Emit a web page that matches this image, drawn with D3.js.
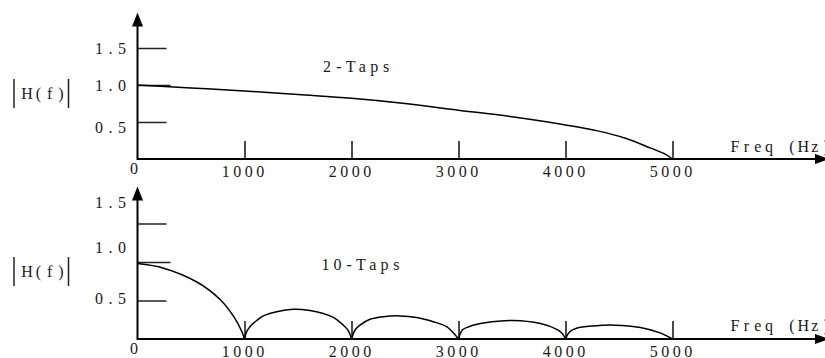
<!DOCTYPE html>
<html>
<head>
<meta charset="utf-8">
<script src="https://cdn.jsdelivr.net/npm/d3@7"></script>
<style>
  body { margin: 0; background: #fff; }
  svg { display: block; }
</style>
</head>
<body>
<div id="chart"></div>
<script>
// frequency ticks (Hz)
var freqTicks = [1000, 2000, 3000, 4000, 5000];
var freqTickLabels = ["1000", "2000", "3000", "4000", "5000"];

// magnitude ticks
var magTicks = [0.5, 1.0, 1.5];
var magTickLabels = ["0.5", "1.0", "1.5"];
// where the magnitude labels sit (in |H| units), as drawn
var topLabelAt = [0.43, 1.0, 1.5];
var bottomLabelAt = [0.53, 1.19, 1.77];

// 2-taps response
var twoTapFreq = [0, 500, 1000, 1500, 2000, 2500, 3000, 3500, 4000, 4300, 4560, 4790, 4940, 5000];
var twoTapMag  = [1.0, 0.96, 0.92, 0.87, 0.82, 0.75, 0.66, 0.57, 0.46, 0.38, 0.28, 0.15, 0.06, 0];

// 10-taps response
var tenTapFreq = [0, 245, 555, 774, 900, 976, 1000,
  1020, 1051, 1114, 1176, 1300, 1456, 1612, 1736, 1830, 1923, 1970, 2000,
  2033, 2079, 2173, 2297, 2453, 2609, 2764, 2889, 2951, 3000,
  3036, 3097, 3250, 3510, 3766, 3918, 3964, 4000,
  4040, 4103, 4260, 4460, 4700, 4884, 4960, 5000];
var tenTapMag = [0.98, 0.92, 0.74, 0.51, 0.29, 0.095, 0,
  0.095, 0.16, 0.24, 0.30, 0.355, 0.386, 0.37, 0.33, 0.28, 0.18, 0.11, 0,
  0.117, 0.18, 0.256, 0.29, 0.30, 0.28, 0.225, 0.16, 0.08, 0,
  0.117, 0.16, 0.21, 0.24, 0.20, 0.126, 0.08, 0,
  0.095, 0.14, 0.17, 0.18, 0.15, 0.08, 0.03, 0];

var svgWidth = 825, svgHeight = 358;
var x0 = 137.5;
var pitch = 11.5;
var font = "'Liberation Serif', 'DejaVu Serif', serif";

var svg = d3.select("#chart").append("svg")
  .attr("width", svgWidth)
  .attr("height", svgHeight);

var xScale = d3.scaleLinear().domain([0, 5000]).range([x0, 672.5]);

// text with each character centred in its own fixed-width cell
function monoText(g, str, cx, y, step) {
  var n = str.length;
  var xs = str.split("").map(function(c, i) { return cx + (i - (n - 1) / 2) * step; });
  return g.append("text")
    .attr("x", xs.join(" "))
    .attr("y", y)
    .attr("text-anchor", "middle")
    .attr("font-family", font)
    .attr("font-size", 16)
    .attr("fill", "#1a1a1a")
    .style("white-space", "pre")
    .text(str);
}

function drawPanel(opts) {
  var g = svg.append("g");
  var base = opts.base;
  var yScale = d3.scaleLinear().domain([0, 1.5]).range([base, base - 1.5 * opts.unit]);

  // x ticks (pointing up)
  var xAxis = g.append("g")
    .attr("transform", `translate(0, ${base})`)
    .call(d3.axisBottom(xScale).tickValues(freqTicks).tickSize(-18).tickFormat(""));
  xAxis.select(".domain").remove();
  xAxis.selectAll(".tick line").attr("stroke", "#111").attr("stroke-width", 1.5);

  // y ticks (pointing right)
  var yAxis = g.append("g")
    .attr("transform", `translate(${x0}, 0)`)
    .call(d3.axisRight(yScale).tickValues(magTicks).tickSize(29).tickFormat(""));
  yAxis.select(".domain").remove();
  yAxis.selectAll(".tick line")
    .attr("stroke", "#222").attr("stroke-width", 1.5)
    .attr("x2", function(d) { return d === 1.0 ? 33 : 29; });

  // x axis line + arrow
  g.append("line")
    .attr("x1", x0).attr("x2", 816)
    .attr("y1", base).attr("y2", base)
    .attr("stroke", "#000").attr("stroke-width", 2);
  g.append("path")
    .attr("d", `M815,${base - 5}L829,${base}L815,${base + 5}Z`)
    .attr("fill", "#000");

  // y axis line + arrow
  g.append("line")
    .attr("x1", x0).attr("x2", x0)
    .attr("y1", base + 1).attr("y2", opts.tip + 13)
    .attr("stroke", "#000").attr("stroke-width", 2);
  g.append("path")
    .attr("d", `M${x0 - 5.5},${opts.tip + 14}L${x0},${opts.tip}L${x0 + 5.5},${opts.tip + 14}Z`)
    .attr("fill", "#000");

  // curve, split into lobes at the zeros so the cusps stay sharp
  var pts = opts.freq.map(function(f, i) { return [f, opts.mag[i]]; });
  var segs = [], cur = [];
  pts.forEach(function(p, i) {
    cur.push(p);
    if (p[1] === 0 && i > 0) {
      segs.push(cur);
      cur = [p];
    }
  });
  if (cur.length > 1) segs.push(cur);

  var line = d3.line()
    .x(function(d) { return xScale(d[0]); })
    .y(function(d) { return yScale(d[1]); })
    .curve(d3.curveCatmullRom.alpha(0.5));

  g.selectAll("path.resp")
    .data(segs)
    .enter()
    .append("path")
    .attr("class", "resp")
    .attr("d", line)
    .attr("fill", "none")
    .attr("stroke", "#000")
    .attr("stroke-width", 1.5);

  // x tick labels
  freqTicks.forEach(function(f, i) {
    monoText(g, freqTickLabels[i], xScale(f) - 1.5, base + 17.5, pitch);
  });
  monoText(g, "0", x0 - 3.5, base + 15, pitch);

  // y tick labels
  magTicks.forEach(function(v, i) {
    monoText(g, magTickLabels[i], 110.5, yScale(opts.labelAt[i]) + 5.5, pitch);
  });

  // |H(f)|
  monoText(g, "H(f)", 44, opts.hy, 11.3);
  [14, 68.5].forEach(function(bx) {
    g.append("line")
      .attr("x1", bx).attr("x2", bx)
      .attr("y1", opts.hy - 20).attr("y2", opts.hy + 9)
      .attr("stroke", "#222").attr("stroke-width", 1.5);
  });

  monoText(g, "Freq (Hz)", 780.5, opts.freqY, 11.4);
  monoText(g, opts.title, opts.titleX, opts.titleY, 11.8);
}

drawPanel({
  base: 159, unit: 74, tip: 12.5,
  freq: twoTapFreq, mag: twoTapMag,
  labelAt: topLabelAt,
  hy: 99, freqY: 152, title: "2-Taps", titleX: 356.5, titleY: 72
});

drawPanel({
  base: 339, unit: 77, tip: 186.5,
  freq: tenTapFreq, mag: tenTapMag,
  labelAt: bottomLabelAt,
  hy: 277, freqY: 331, title: "10-Taps", titleX: 361, titleY: 270
});
</script>
</body>
</html>
